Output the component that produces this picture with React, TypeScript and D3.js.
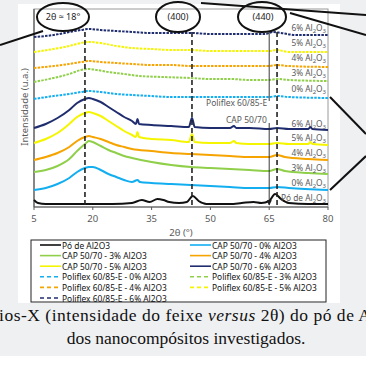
import React from "react";
import * as d3 from "d3";

// 2θ (degrees) and intensity (a.u.)
const polX6 = [5, 10, 14, 17, 19, 22, 26, 30, 35, 40, 45, 50, 55, 60, 64, 66, 68, 72, 76, 80];
const polY6 = [170, 172, 175, 177, 178, 177, 176, 175, 174, 174, 174, 173, 173, 173, 173, 175, 174, 172, 172, 172];
const polX = [5, 10, 14, 17, 19, 22, 26, 30, 35, 40, 45, 50, 55, 60, 65, 67, 70, 80];
const polY5 = [155, 158, 161, 164, 165, 164, 161, 159, 158, 157, 157, 156, 156, 156, 156, 157, 155, 155];
const polY4 = [139, 141, 143, 145, 146, 145, 144, 143, 142, 142, 141, 141, 141, 141, 141, 142, 141, 140];
const polX3 = [5, 10, 14, 17, 19, 21, 24, 28, 32, 38, 45, 50, 55, 60, 65, 67, 70, 80];
const polY3 = [125, 129, 133, 137, 138, 137, 135, 133, 131, 130, 129, 128, 128, 127, 127, 128, 127, 126];
const polY0 = [108, 111, 113, 115, 116, 115, 113, 112, 111, 110, 110, 110, 110, 110, 110, 111, 110, 109];

const capX65 = [5, 8, 11, 14, 16, 18, 19, 20, 22, 24, 26, 28, 30, 31, 31.4, 31.8, 35, 40, 44.5, 45.3, 46, 50, 55, 56, 56.6, 60, 65, 67, 70, 75, 75.5, 76, 80];
const capY6 = [79, 83, 89, 97, 104, 108, 109, 108, 105, 100, 95, 90, 86, 83, 88, 83, 82, 81, 80, 89, 80, 79, 79, 81, 79, 79, 78, 79, 78, 78, 80, 78, 77];
const capY5 = [64, 68, 74, 83, 90, 94, 95, 94, 91, 86, 81, 76, 72, 70, 75, 70, 68, 67, 65, 73, 65, 64, 64, 66, 64, 63, 63, 64, 63, 63, 65, 63, 62];
const capX43 = [5, 8, 11, 14, 16, 18, 19, 20, 22, 24, 26, 28, 30, 35, 40, 45, 50, 55, 60, 65, 67, 69, 75, 80];
const capY4 = [47, 50, 54, 60, 66, 70, 71, 70, 68, 65, 62, 60, 58, 56, 54, 53, 52, 51, 50, 50, 52, 50, 48, 47];
const capY3 = [35, 37, 41, 48, 56, 63, 66, 65, 61, 57, 54, 51, 49, 45, 42, 40, 39, 38, 37, 36, 38, 36, 34, 33];
const capX0 = [5, 8, 11, 14, 16, 18, 19, 20, 22, 24, 26, 28, 30, 31.4, 32, 35, 40, 45, 50, 55, 60, 65, 67, 70, 80];
const capY0 = [17, 19, 23, 29, 35, 39, 40, 40, 37, 33, 30, 27, 25, 27, 25, 24, 23, 22, 21, 20, 19, 19, 20, 19, 17];

const aluX = [5, 6, 8, 15, 25, 30, 32.5, 34.5, 36.5, 38, 39.5, 42, 44, 45.5, 47, 49, 55, 58, 61, 63, 65, 66.5, 68, 70, 75, 80];
const aluY = [7, 4, 3, 3, 3, 4, 7, 5, 8, 7, 5, 4, 5, 11, 6, 3, 3, 4, 5, 4, 6, 13, 8, 4, 3, 3];

const xTicks = [5, 20, 35, 50, 65, 80];
const peakLines = [18, 45.3, 67];

const NAVY = "#1f2d6e";
const YEL = "#f5f500";
const ORA = "#f5a400";
const GRN = "#8fcf4a";
const BLU = "#12aef0";

const series = [
  { name: "Pó de Al2O3", xs: aluX, ys: aluY, color: "#111", dash: false },
  { name: "CAP 50/70 - 0% Al2O3", xs: capX0, ys: capY0, color: BLU, dash: false },
  { name: "CAP 50/70 - 3% Al2O3", xs: capX43, ys: capY3, color: GRN, dash: false },
  { name: "CAP 50/70 - 4% Al2O3", xs: capX43, ys: capY4, color: ORA, dash: false },
  { name: "CAP 50/70 - 5% Al2O3", xs: capX65, ys: capY5, color: YEL, dash: false },
  { name: "CAP 50/70 - 6% Al2O3", xs: capX65, ys: capY6, color: NAVY, dash: false },
  { name: "Poliflex 60/85-E - 0% Al2O3", xs: polX, ys: polY0, color: BLU, dash: true },
  { name: "Poliflex 60/85-E - 3% Al2O3", xs: polX3, ys: polY3, color: GRN, dash: true },
  { name: "Poliflex 60/85-E - 4% Al2O3", xs: polX, ys: polY4, color: ORA, dash: true },
  { name: "Poliflex 60/85-E - 5% Al2O3", xs: polX, ys: polY5, color: YEL, dash: true },
  { name: "Poliflex 60/85-E - 6% Al2O3", xs: polX6, ys: polY6, color: NAVY, dash: true },
];

const rightLabels = [
  { t: "6% Al", y: 28 }, { t: "5% Al", y: 43 }, { t: "4% Al", y: 58 }, { t: "3% Al", y: 73 }, { t: "0% Al", y: 89 },
  { t: "6% Al", y: 124 }, { t: "5% Al", y: 138 }, { t: "4% Al", y: 153 }, { t: "3% Al", y: 168 }, { t: "0% Al", y: 183 },
  { t: "Pó de Al", y: 198 },
];

const F = "'Noto Sans', 'Open Sans', sans-serif";
const GRAY = "#595959";

export default function App() {
  const left = 34, right = 328, top = 9, bottom = 207;
  const x = d3.scaleLinear().domain([5, 80]).range([left, right]);
  const y = d3.scaleLinear().domain([0, 198]).range([bottom, top]);
  const line = d3
    .line<[number, number]>()
    .x((d) => x(d[0]))
    .y((d) => y(d[1]))
    .curve(d3.curveMonotoneX);

  return (
    <svg width={366} height={366} style={{ position: "absolute", left: 0, top: 0 }}>
      <defs>
        <marker id="arr" viewBox="0 0 10 10" refX="9" refY="5" markerWidth="6" markerHeight="6" orient="auto">
          <path d="M0,0 L10,5 L0,10 z" fill="#222" />
        </marker>
      </defs>
      <rect width={366} height={366} fill="#eff0f2" />
      <rect x={18} y={4} width={322} height={299} fill="#fff" />
      <rect x={0} y={356} width={366} height={10} fill="#fff" />

      {/* plot frame */}
      <rect x={left} y={top} width={right - left} height={bottom - top} fill="none" stroke="#9a9a9a" strokeWidth={1} />
      <line x1={left} x2={left} y1={top} y2={bottom} stroke="#595959" strokeWidth={1.2} />
      <line x1={left} x2={right} y1={bottom} y2={bottom} stroke="#595959" strokeWidth={1.2} />
      {xTicks.map((t) => (
        <g key={t}>
          <line x1={x(t)} x2={x(t)} y1={bottom} y2={bottom + 3} stroke="#595959" />
          <text x={x(t)} y={222} textAnchor="middle" fontFamily={F} fontSize={9.5} fill={GRAY}>{t}</text>
        </g>
      ))}
      <text x={181} y={236} textAnchor="middle" fontFamily={F} fontSize={9.5} fill={GRAY}>2θ (°)</text>
      <text transform="translate(28,107) rotate(-90)" textAnchor="middle" fontFamily={F} fontSize={9.5} fill={GRAY}>Intensidade (u.a.)</text>

      {/* series */}
      {series.map((s) => (
        <path
          key={s.name}
          d={line(s.xs.map((v, i) => [v, s.ys[i]] as [number, number])) || ""}
          fill="none"
          stroke={s.color}
          strokeWidth={2}
          strokeDasharray={s.dash ? "2.5 1.2" : undefined}
        />
      ))}

      {/* peak guides */}
      {peakLines.map((p) => (
        <line key={p} x1={x(p)} x2={x(p)} y1={32} y2={bottom} stroke="#222" strokeWidth={1.6} strokeDasharray="5 3" />
      ))}
      <line x1={x(65)} x2={x(65)} y1={32} y2={101} stroke="#222" strokeWidth={0.9} />
      <line x1={x(65)} x2={x(65)} y1={123} y2={205} stroke="#222" strokeWidth={0.9} markerEnd="url(#arr)" />

      {rightLabels.map((l, i) => (
        <text key={i} x={326} y={l.y + 3} textAnchor="end" fontFamily={F} fontSize={8.3} fill={GRAY}>
          {l.t}
          <tspan fontSize={6} dy={2}>2</tspan>
          <tspan dy={-2}>O</tspan>
          <tspan fontSize={6} dy={2}>3</tspan>
        </text>
      ))}
      <text x={206} y={106} fontFamily={F} fontSize={8.5} fill={GRAY}>Poliflex 60/85-E</text>
      <text x={226} y={123} fontFamily={F} fontSize={8.5} fill={GRAY}>CAP 50/70</text>

      {/* annotations */}
      <ellipse cx={63} cy={17} rx={26} ry={14} fill="none" stroke="#111" strokeWidth={2} />
      <text x={63} y={20} textAnchor="middle" fontFamily={F} fontSize={9} fill="#222">2θ ≈ 18°</text>
      <ellipse cx={178} cy={17} rx={22} ry={15} fill="none" stroke="#111" strokeWidth={2} />
      <text x={178} y={20} textAnchor="middle" fontFamily={F} fontSize={9} fill="#222">(400)</text>
      <ellipse cx={262} cy={17} rx={24} ry={15} fill="none" stroke="#111" strokeWidth={2} />
      <text x={263} y={20} textAnchor="middle" fontFamily={F} fontSize={9} fill="#222">(440)</text>
      <line x1={0} y1={45} x2={43} y2={31} stroke="#111" strokeWidth={2} />
      <line x1={201} y1={3} x2={366} y2={15} stroke="#111" strokeWidth={2} />
      <line x1={290} y1={13} x2={366} y2={35} stroke="#111" strokeWidth={2} />
      <line x1={330} y1={97} x2={366} y2={134} stroke="#111" strokeWidth={2} />
      <line x1={330} y1={190} x2={366} y2={156} stroke="#111" strokeWidth={2} />

      {/* legend */}
      <rect x={31} y={240} width={295} height={62} fill="#fff" stroke="#222" strokeWidth={1} />
      {series.map((s, i) => {
        const col = i % 2;
        const row = Math.floor(i / 2);
        const lx = col === 0 ? 40 : 190;
        const ly = 245 + row * 10.6;
        return (
          <g key={s.name}>
            <line x1={lx} x2={lx + 21} y1={ly} y2={ly} stroke={s.color} strokeWidth={1.6} strokeDasharray={s.dash ? "4 3" : undefined} />
            <text x={lx + 22} y={ly + 3.5} fontFamily={F} fontSize={8.4} fill="#111">{s.name}</text>
          </g>
        );
      })}

      {/* caption */}
      <text x={-1} y={321} fontFamily="'Liberation Serif', serif" fontSize={17.5} fill="#111" textLength={372} lengthAdjust="spacing">
        ios-X (intensidade do feixe <tspan fontStyle="italic">versus</tspan> 2θ) do pó de A
      </text>
      <text x={186} y={344} textAnchor="middle" fontFamily="'Liberation Serif', serif" fontSize={17.5} fill="#111">
        dos nanocompósitos investigados.
      </text>
    </svg>
  );
}
